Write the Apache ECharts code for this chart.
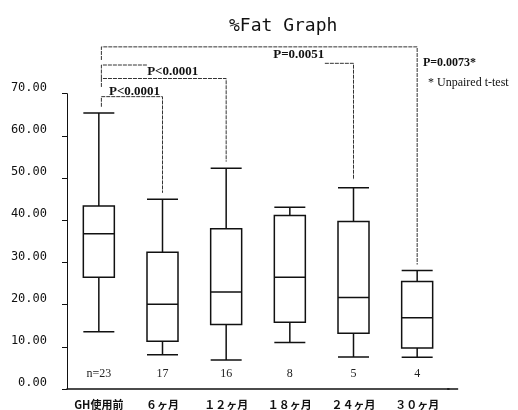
<!DOCTYPE html>
<html>
<head>
<meta charset="utf-8">
<script src="https://cdn.jsdelivr.net/npm/echarts@6/dist/echarts.min.js"></script>
<style>
  html, body { margin: 0; padding: 0; background: #fff; }
  #chart { width: 518px; height: 410px; }
</style>
</head>
<body>
<div id="chart"></div>
<script>
// categories
var categories = ['GH使用前', '６ヶ月', '１２ヶ月', '１８ヶ月', '２４ヶ月', '３０ヶ月']
// [min, Q1, median, Q3, max]
var boxValues = [
  [13.6, 26.5, 36.8, 43.4, 65.4],
  [8.1, 11.3, 20.1, 32.4, 45.0],
  [6.9, 15.3, 23.0, 38.0, 52.3],
  [11.0, 15.8, 26.5, 41.1, 43.1],
  [7.6, 13.2, 21.7, 39.7, 47.7],
  [7.5, 9.7, 16.9, 25.5, 28.1]
]
var nLabels = ['n=23', '17', '16', '8', '5', '4']
var nLabelLevel = 3.7
var yTicks = [0, 10, 20, 30, 40, 50, 60, 70]

// significance brackets: [category position, value]
var bracketPaths = [
  [[0.04, 78.0], [0.04, 81.1], [5, 81.1], [5, 29.5]],
  [[0.04, 73.6], [0.04, 76.8], [0.76, 76.8]],
  [[0.04, 71.6], [0.04, 73.6], [2, 73.6], [2, 53.9]],
  [[0.04, 66.9], [0.04, 69.3], [1, 69.3], [1, 46.5]],
  [[3.55, 77.2], [4, 77.2], [4, 49.6]]
]
// [text, category position, value, align]
var pTexts = [
  ['P<0.0001', 1.16, 75.2, 'center'],
  ['P<0.0001', 0.56, 70.6, 'center'],
  ['P=0.0051', 3.14, 79.2, 'center'],
  ['P=0.0073*', 5.09, 77.3, 'left'],
  ['* Unpaired t-test', 5.17, 72.6, 'left']
]

var chart = echarts.init(document.getElementById('chart'))

// category position (may be fractional) -> pixel
function toPixel(api, x, y) {
  var i = Math.floor(x)
  var p = api.coord([i, y])
  p[0] += (x - i) * api.size([1, 0])[0]
  return p
}

chart.setOption({
  animation: false,
  title: {
    text: '%Fat Graph',
    left: 224,
    top: 12,
    textStyle: {
      fontFamily: 'DejaVu Sans Mono',
      fontSize: 18,
      fontWeight: 'normal',
      color: '#111'
    }
  },
  grid: {
    left: 67,
    right: 69,
    top: 93.7,
    bottom: 20.4
  },
  xAxis: {
    type: 'category',
    data: categories,
    axisLine: { lineStyle: { color: '#111', width: 1.5 } },
    axisTick: { show: false },
    axisLabel: {
      interval: 0,
      margin: 10,
      fontFamily: 'Noto Sans CJK JP',
      fontSize: 11,
      fontWeight: 'bold',
      color: '#111'
    }
  },
  yAxis: {
    type: 'value',
    min: yTicks[0],
    max: yTicks[yTicks.length - 1],
    interval: 10,
    splitLine: { show: false },
    axisLine: { show: true, lineStyle: { color: '#111', width: 1 } },
    axisTick: { show: true, length: 5, lineStyle: { color: '#111' } },
    axisLabel: {
      margin: 20,
      verticalAlign: 'bottom',
      fontFamily: 'DejaVu Sans Mono',
      fontSize: 12,
      color: '#111',
      formatter: function (v) { return v.toFixed(2) }
    }
  },
  series: [
    {
      type: 'boxplot',
      data: boxValues,
      boxWidth: [31, 31],
      itemStyle: {
        color: '#fff',
        borderColor: '#111',
        borderWidth: 1.5
      }
    },
    {
      // n labels
      type: 'custom',
      data: nLabels.map(function (t, i) { return [i, nLabelLevel] }),
      renderItem: function (params, api) {
        var p = api.coord([params.dataIndex, nLabelLevel])
        return {
          type: 'text',
          x: p[0],
          y: p[1],
          style: {
            text: nLabels[params.dataIndex],
            align: 'center',
            verticalAlign: 'middle',
            fontFamily: 'Liberation Serif',
            fontSize: 12,
            fill: '#222'
          }
        }
      }
    },
    {
      // brackets
      type: 'custom',
      data: bracketPaths.map(function (p, i) { return [i, 0] }),
      renderItem: function (params, api) {
        var path = bracketPaths[params.dataIndex]
        return {
          type: 'polyline',
          shape: {
            points: path.map(function (q) { return toPixel(api, q[0], q[1]) })
          },
          style: {
            stroke: '#333',
            lineWidth: 1,
            lineDash: [4, 1],
            fill: null
          }
        }
      }
    },
    {
      // p-value texts
      type: 'custom',
      data: pTexts.map(function (t, i) { return [i, 0] }),
      renderItem: function (params, api) {
        var t = pTexts[params.dataIndex]
        var p = toPixel(api, t[1], t[2])
        var note = t[0].charAt(0) === '*'
        return {
          type: 'text',
          x: p[0],
          y: p[1],
          style: {
            text: t[0],
            align: t[3],
            verticalAlign: 'middle',
            fontFamily: 'Liberation Serif',
            fontSize: note ? 12 : (t[3] === 'left' ? 12 : 13),
            fontWeight: note ? 'normal' : 'bold',
            fill: '#111'
          }
        }
      }
    }
  ]
})

// x axis line runs a little past the last category band
var axisEnd = chart.convertToPixel({ xAxisIndex: 0 }, categories.length - 1) + 32
var axisY = chart.convertToPixel({ yAxisIndex: 0 }, 0)
chart.setOption({
  graphic: [{
    type: 'line',
    shape: { x1: axisEnd - 2, y1: axisY, x2: axisEnd + 9, y2: axisY },
    style: { stroke: '#111', lineWidth: 1.5 }
  }]
})
</script>
</body>
</html>
